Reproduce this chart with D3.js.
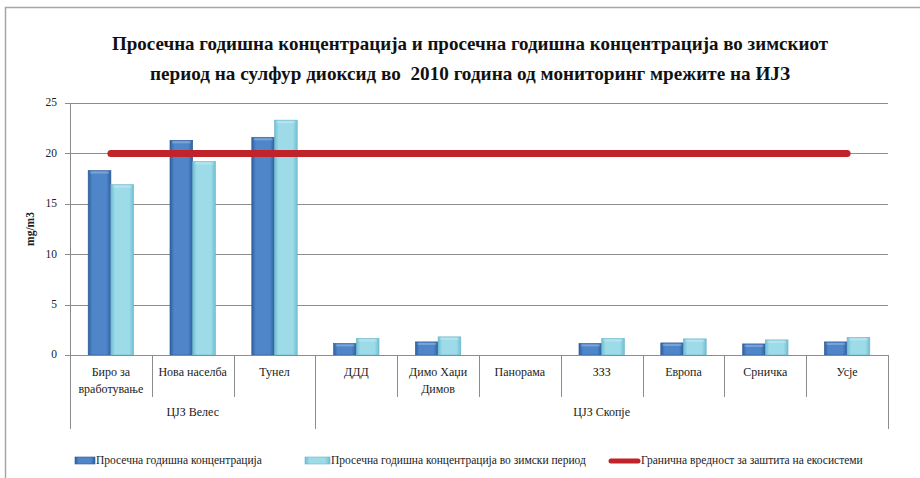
<!DOCTYPE html>
<html>
<head>
<meta charset="utf-8">
<script src="https://cdn.jsdelivr.net/npm/d3@7/dist/d3.min.js"></script>
<style>
  html, body { margin: 0; padding: 0; background: #fff; }
  #wrap { position: relative; width: 920px; height: 478px; overflow: hidden; }
  svg { display: block; position: absolute; left: 0; top: 0; }
  .lbl { position: absolute; white-space: pre; color: #222;
         font-family: 'Liberation Serif', 'Times New Roman', serif; }
</style>
</head>
<body>
<div id="wrap"><svg id="chart" width="920" height="478"></svg></div>
<script>
// Stations and their network groups
const stations = ["Биро за|вработување", "Нова населба", "Тунел", "ДДД", "Димо Хаџи|Димов",
                  "Панорама", "ЗЗЗ", "Европа", "Срничка", "Усје"];
const groups = [
  { name: "ЦЈЗ Велес", from: 0, to: 2 },
  { name: "ЦЈЗ Скопје", from: 3, to: 9 }
];
// SO2 concentrations, mg/m3 (null = no measurement)
const annualMean = [18.3, 21.3, 21.6, 1.15, 1.3, null, 1.15, 1.2, 1.1, 1.3];
const winterMean = [16.9, 19.2, 23.3, 1.65, 1.8, null, 1.65, 1.6, 1.5, 1.75];
const limitValue = [20, 20, 20, 20, 20, 20, 20, 20, 20, 20];
const yTicks = [0, 5, 10, 15, 20, 25];
const titleLines = [
  "Просечна годишна концентрација и просечна годишна концентрација во зимскиот",
  "период на сулфур диоксид во  2010 година од мониторинг мрежите на ИЈЗ"
];
const legendLabels = [
  "Просечна годишна концентрација",
  "Просечна годишна концентрација во зимски период",
  "Гранична вредност за заштита на екосистеми"
];

const wrap = d3.select("#wrap");
const svg = d3.select("#chart");
const margin = { left: 70, right: 32, top: 103, bottom: 123 };
const W = 920, H = 478;
const plotW = W - margin.left - margin.right;
const plotH = H - margin.top - margin.bottom;

// Text labels as positioned HTML; (x, y) is the anchor point on the baseline
function label(x, y, text, opt = {}) {
  const size = opt.size || 12;
  const anchor = opt.anchor || "start";
  const shift = anchor === "middle" ? "-50%" : anchor === "end" ? "-100%" : "0";
  const el = wrap.append("div").attr("class", "lbl")
    .style("left", x + "px")
    .style("top", (y - 0.8375 * size) + "px")
    .style("font-size", size + "px")
    .style("line-height", size + "px")
    .style("font-weight", opt.weight || "normal")
    .style("color", opt.color || "#222")
    .text(text);
  let tf = `translateX(${shift})`;
  if (opt.width) {
    const w = el.node().getBoundingClientRect().width;
    el.style("transform-origin", "0 0");
    tf += ` scaleX(${opt.width / w})`;
    if (anchor === "middle") tf = `translateX(${-opt.width / 2}px) scaleX(${opt.width / w})`;
  }
  el.style("transform", tf);
  return el;
}

// Gradients for the bevelled bars
const defs = svg.append("defs");
function barGradient(id, edge, mid) {
  const g = defs.append("linearGradient").attr("id", id)
    .attr("x1", "0").attr("x2", "1").attr("y1", "0").attr("y2", "0");
  g.append("stop").attr("offset", "0%").attr("stop-color", edge);
  g.append("stop").attr("offset", "18%").attr("stop-color", mid);
  g.append("stop").attr("offset", "80%").attr("stop-color", mid);
  g.append("stop").attr("offset", "100%").attr("stop-color", edge);
}
barGradient("gDark", "#2f5f9f", "#4f86c9");
barGradient("gLight", "#6fbfd3", "#9edbe9");

// Outer frame (top and left edges visible)
svg.append("path").attr("d", `M5.5,${H} V7.5 H${W}`)
  .attr("fill", "none").attr("stroke", "#a6a6a6").attr("stroke-width", 1.5);

// Title
titleLines.forEach((t, i) =>
  label(470, 50 + i * 30, t, { size: 19, weight: "bold", anchor: "middle", color: "#111", width: i === 0 ? 716 : 640 }));

const g = svg.append("g").attr("transform", `translate(${margin.left},${margin.top})`);

const x = d3.scaleBand().domain(d3.range(stations.length)).range([0, plotW]).paddingInner(0).paddingOuter(0);
const y = d3.scaleLinear().domain([0, 25]).range([plotH, 0]);
const sub = d3.scaleBand().domain([0, 1]).range([0, x.bandwidth()]).paddingOuter(0.8).paddingInner(0);

// Horizontal grid lines
g.append("g").selectAll("line").data(yTicks).join("line")
  .attr("x1", -5).attr("x2", plotW)
  .attr("y1", d => Math.round(y(d)) + 0.5).attr("y2", d => Math.round(y(d)) + 0.5)
  .attr("stroke", "#8c8c8c").attr("stroke-width", 1);

// Y axis line and labels
g.append("line").attr("x1", 0.5).attr("x2", 0.5).attr("y1", 0).attr("y2", plotH)
  .attr("stroke", "#8c8c8c");
yTicks.forEach(t => label(margin.left - 13, margin.top + y(t) + 4, String(t), { size: 11.5, anchor: "end" }));

// Y axis title (rotated)
const yt = label(0, 0, "mg/m3", { size: 11.5, weight: "bold" });
{
  const w = yt.node().getBoundingClientRect().width;
  yt.style("left", "0px").style("top", "0px").style("transform-origin", "0 0")
    .style("transform", `translate(25px, ${margin.top + plotH / 2 + w / 2}px) rotate(-90deg)`);
}

// Bars
const series = [
  { values: annualMean, fill: "url(#gDark)", stroke: "#2c5a96" },
  { values: winterMean, fill: "url(#gLight)", stroke: "#6bb6ca" }
];
series.forEach((s, si) => {
  const pts = s.values.map((v, i) => ({ v, i })).filter(d => d.v != null);
  g.append("g").selectAll("rect").data(pts).join("rect")
    .attr("x", d => x(d.i) + sub(si))
    .attr("width", sub.bandwidth())
    .attr("y", d => y(d.v))
    .attr("height", d => plotH - y(d.v))
    .attr("fill", s.fill)
    .attr("stroke", s.stroke).attr("stroke-width", 0.6);
  // top highlight
  g.append("g").selectAll("rect").data(pts).join("rect")
    .attr("x", d => x(d.i) + sub(si) + 2)
    .attr("width", sub.bandwidth() - 4)
    .attr("y", d => y(d.v) + 1)
    .attr("height", 2)
    .attr("fill", "#ffffff").attr("opacity", 0.25);
});

// Category axis line
g.append("line").attr("x1", 0).attr("x2", plotW)
  .attr("y1", plotH + 0.5).attr("y2", plotH + 0.5).attr("stroke", "#8c8c8c");

// Category separators
const groupEdges = new Set([0, ...groups.map(gr => gr.to + 1)]);
g.append("g").selectAll("line").data(d3.range(stations.length + 1)).join("line")
  .attr("x1", d => Math.round(d === stations.length ? plotW : x(d)) + 0.5)
  .attr("x2", d => Math.round(d === stations.length ? plotW : x(d)) + 0.5)
  .attr("y1", plotH).attr("y2", d => groupEdges.has(d) ? plotH + 74 : plotH + 42)
  .attr("stroke", "#8c8c8c");

// Category labels
stations.forEach((s, i) => {
  s.split("|").forEach((line, li) =>
    label(margin.left + x(i) + x.bandwidth() / 2, margin.top + plotH + 21 + li * 17, line, { size: 12, anchor: "middle" }));
});

// Group labels
groups.forEach(gr => {
  const x0 = x(gr.from), x1 = gr.to + 1 >= stations.length ? plotW : x(gr.to + 1);
  label(margin.left + (x0 + x1) / 2, margin.top + plotH + 61, gr.name, { size: 12, anchor: "middle" });
});

// Limit value line
const line = d3.line().x((d, i) => x(i) + x.bandwidth() / 2).y(d => y(d));
g.append("path").datum(limitValue)
  .attr("d", line).attr("fill", "none")
  .attr("stroke", "#c0232a").attr("stroke-width", 7).attr("stroke-linecap", "round");

// Legend
const legendY = 461;
const legend = svg.append("g").attr("transform", `translate(0,${legendY})`);
const items = [
  { x: 75, text: legendLabels[0], type: "bar", fill: "url(#gDark)", stroke: "#2c5a96", w: 20 },
  { x: 305, text: legendLabels[1], type: "bar", fill: "url(#gLight)", stroke: "#6bb6ca", w: 25 },
  { x: 609, text: legendLabels[2], type: "line", w: 31 }
];
items.forEach(it => {
  if (it.type === "bar") {
    legend.append("rect").attr("x", it.x).attr("y", -4).attr("width", it.w).attr("height", 7)
      .attr("fill", it.fill).attr("stroke", it.stroke).attr("stroke-width", 0.6);
  } else {
    legend.append("line").attr("x1", it.x + 2).attr("x2", it.x + it.w - 2).attr("y1", 0).attr("y2", 0)
      .attr("stroke", "#c0232a").attr("stroke-width", 5).attr("stroke-linecap", "round");
  }
  label(it.x + it.w + 1, legendY + 4, it.text, { size: 11.5 });
});
</script>
</body>
</html>
